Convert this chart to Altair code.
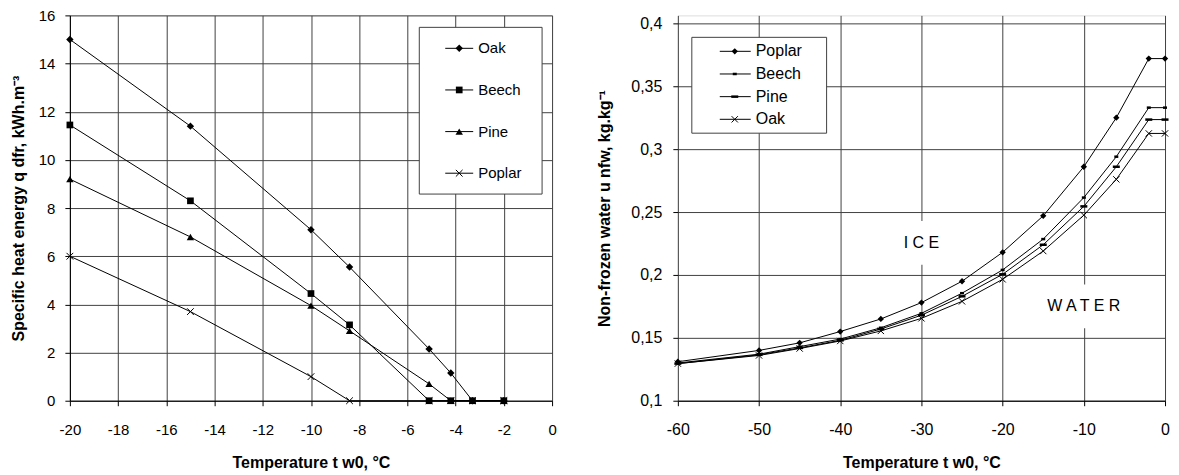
import altair as alt
import pandas as pd

# ---------------- data: left panel (specific heat energy) ----------------
left_t = [-20, -15, -10, -8.4, -5.1, -4.2, -3.3, -2]
left_oak = [15.0, 11.4, 7.1, 5.55, 2.15, 1.15, 0, 0]
left_beech = [11.45, 8.3, 4.45, 3.15, 0, 0, 0, 0]
left_pine = [9.2, 6.8, 3.95, 2.9, 0.7, 0, 0, 0]
left_poplar = [6.0, 3.7, 1.0, 0, 0, 0, 0, 0]
left_series = ["Oak", "Beech", "Pine", "Poplar"]
left_xticks = [-20, -18, -16, -14, -12, -10, -8, -6, -4, -2, 0]
left_yticks = [0, 2, 4, 6, 8, 10, 12, 14, 16]

# ---------------- data: right panel (non-frozen water) ----------------
right_t = [-60, -50, -45, -40, -35, -30, -25, -20, -15, -10, -6, -2, 0]
right_poplar = [0.131, 0.140, 0.146, 0.155, 0.165, 0.178, 0.195, 0.218, 0.247, 0.286, 0.325, 0.372, 0.372]
right_beech = [0.130, 0.137, 0.143, 0.149, 0.158, 0.1695, 0.1855, 0.204, 0.2285, 0.2615, 0.294, 0.333, 0.333]
right_pine = [0.1295, 0.1365, 0.142, 0.148, 0.157, 0.168, 0.183, 0.2005, 0.224, 0.2545, 0.286, 0.3235, 0.3235]
right_oak = [0.1295, 0.136, 0.1415, 0.1475, 0.1555, 0.1655, 0.179, 0.1965, 0.219, 0.2475, 0.276, 0.3125, 0.3125]
right_series = ["Poplar", "Beech", "Pine", "Oak"]
right_xticks = [-60, -50, -40, -30, -20, -10, 0]
right_yticks = [0.1, 0.15, 0.2, 0.25, 0.3, 0.35, 0.4]
annot_text = ["I  C  E", "W  A  T  E  R"]
annot_t = [-30, -10]
annot_u = [0.2255, 0.175]

FONT = "Liberation Sans"
X_PATH = "M-1,-1L1,1M-1,1L1,-1"
DASH = "M-1,0L1,0"


def long_df(ts, series_names, values):
    rows = []
    for name, vals in zip(series_names, values):
        for t, v in zip(ts, vals):
            rows.append({"series": name, "t": t, "v": v})
    return pd.DataFrame(rows)


left_df = long_df(left_t, left_series, [left_oak, left_beech, left_pine, left_poplar])
right_df = long_df(right_t, right_series, [right_poplar, right_beech, right_pine, right_oak])

left_style = {
    "Oak": dict(shape="diamond", filled=True, size=55, strokeWidth=1),
    "Beech": dict(shape="square", filled=True, size=45, strokeWidth=1),
    "Pine": dict(shape="triangle-up", filled=True, size=55, strokeWidth=1),
    "Poplar": dict(shape=X_PATH, filled=False, size=45, strokeWidth=1),
}
right_style = {
    "Poplar": dict(shape="diamond", filled=True, size=40, strokeWidth=1),
    "Beech": dict(shape=DASH, filled=False, size=16, strokeWidth=2.5),
    "Pine": dict(shape=DASH, filled=False, size=49, strokeWidth=2.5),
    "Oak": dict(shape=X_PATH, filled=False, size=40, strokeWidth=1),
}

one_row = alt.Data(values=[{"k": 0}])


def axis(values, title, label_size, expr, grid_color="#404040", domain=True, **kw):
    return alt.Axis(
        values=values, title=title, grid=True, gridColor=grid_color, gridOpacity=1,
        gridWidth=1, domain=domain, domainColor="black", domainWidth=1, tickColor="black",
        tickSize=5, labelFont=FONT, labelFontSize=label_size, labelColor="black",
        labelExpr=expr, labelFlush=False, labelOverlap=False, titleFont=FONT,
        titleFontSize=16, titleFontWeight="bold", titleColor="black", **kw)


def legend_layers(names, styles, box, row_y0, row_step, line_x, mark_x, text_x, fsize):
    layers = [
        alt.Chart(one_row).mark_rect(fill="white", stroke="#404040", strokeWidth=1).encode(
            x=alt.value(box[0]), x2=alt.value(box[1]), y=alt.value(box[2]), y2=alt.value(box[3]))
    ]
    for i, name in enumerate(names):
        yy = row_y0 + i * row_step
        st = styles[name]
        layers.append(alt.Chart(one_row).mark_rule(color="black", strokeWidth=1).encode(
            x=alt.value(line_x[0]), x2=alt.value(line_x[1]), y=alt.value(yy)))
        layers.append(alt.Chart(one_row).mark_point(
            shape=st["shape"], filled=st["filled"], size=st["size"], color="black",
            strokeWidth=st["strokeWidth"], opacity=1).encode(x=alt.value(mark_x), y=alt.value(yy)))
        layers.append(alt.Chart(one_row).mark_text(
            text=name, align="left", baseline="middle", font=FONT, fontSize=fsize,
            color="black").encode(x=alt.value(text_x), y=alt.value(yy)))
    return layers


# ---------------- left panel ----------------
lx = alt.X("t:Q", scale=alt.Scale(domain=[-20, 0], nice=False),
           axis=axis(left_xticks, "Temperature t w0, °C", 15, "datum.value + ''",
                     labelPadding=17, minExtent=34, maxExtent=34, titlePadding=20))
ly = alt.Y("v:Q", scale=alt.Scale(domain=[0, 16], nice=False),
           axis=axis(left_yticks, "Specific heat energy q dfr, kWh.m⁻³", 15, "datum.value + ''",
                     labelPadding=10, minExtent=32, maxExtent=32, titlePadding=11))

left_layers = [alt.Chart(left_df).mark_line(color="black", strokeWidth=1).encode(
    x=lx, y=ly, detail="series:N")]
for name in left_series:
    st = left_style[name]
    left_layers.append(alt.Chart(left_df).transform_filter(alt.datum.series == name).mark_point(
        shape=st["shape"], filled=st["filled"], size=st["size"], color="black",
        strokeWidth=st["strokeWidth"], opacity=1).encode(x="t:Q", y="v:Q"))
left_layers += legend_layers(left_series, left_style, (350, 473, 12, 179), 33, 41.7,
                             (376, 404), 390, 409, 15)
left = alt.layer(*left_layers).properties(width=483, height=386)

# ---------------- right panel ----------------
rx = alt.X("t:Q", scale=alt.Scale(domain=[-60, 0], nice=False),
           axis=axis(right_xticks, "Temperature t w0, °C", 16, "datum.value + ''",
                     labelPadding=16, minExtent=34, maxExtent=34, titlePadding=20))
ry = alt.Y("v:Q", scale=alt.Scale(domain=[0.1, 0.4 + 0.3 * 8 / 378], nice=False),
           axis=axis(right_yticks, "Non-frozen water u nfw, kg.kg⁻¹", 16,
                     "replace(datum.value + '', '.', ',')", domain=False,
                     labelPadding=11, minExtent=47, maxExtent=47, titlePadding=18))

right_layers = [alt.Chart(right_df).mark_line(color="black", strokeWidth=1).encode(
    x=rx, y=ry, detail="series:N")]
for name in right_series:
    st = right_style[name]
    right_layers.append(alt.Chart(right_df).transform_filter(alt.datum.series == name).mark_point(
        shape=st["shape"], filled=st["filled"], size=st["size"], color="black",
        strokeWidth=st["strokeWidth"], opacity=1).encode(x="t:Q", y="v:Q"))
annot_df = pd.DataFrame({"label": annot_text, "t": annot_t, "v": annot_u})
for lab, box_w in zip(annot_text, [62, 104]):
    right_layers.append(alt.Chart(annot_df).transform_filter(alt.datum.label == lab).mark_rect(
        fill="white", width=box_w, height=44).encode(x="t:Q", y="v:Q"))
right_layers.append(alt.Chart(annot_df).mark_text(
    font=FONT, fontSize=16, color="black", align="center", baseline="middle").encode(
    x="t:Q", y="v:Q", text="label:N"))
right_layers += legend_layers(right_series, right_style, (14, 149, 22, 118), 36, 22.7,
                              (42, 73), 57, 78, 16)
right = alt.layer(*right_layers).properties(width=488, height=386)

chart = alt.hconcat(left, right, spacing=126, bounds="flush").properties(
    padding={"left": 10, "top": 7, "right": 5, "bottom": 5}
).configure_view(stroke=None).configure(background="white")

chart.save("out.html", embed_options={"renderer": "svg", "actions": False})
